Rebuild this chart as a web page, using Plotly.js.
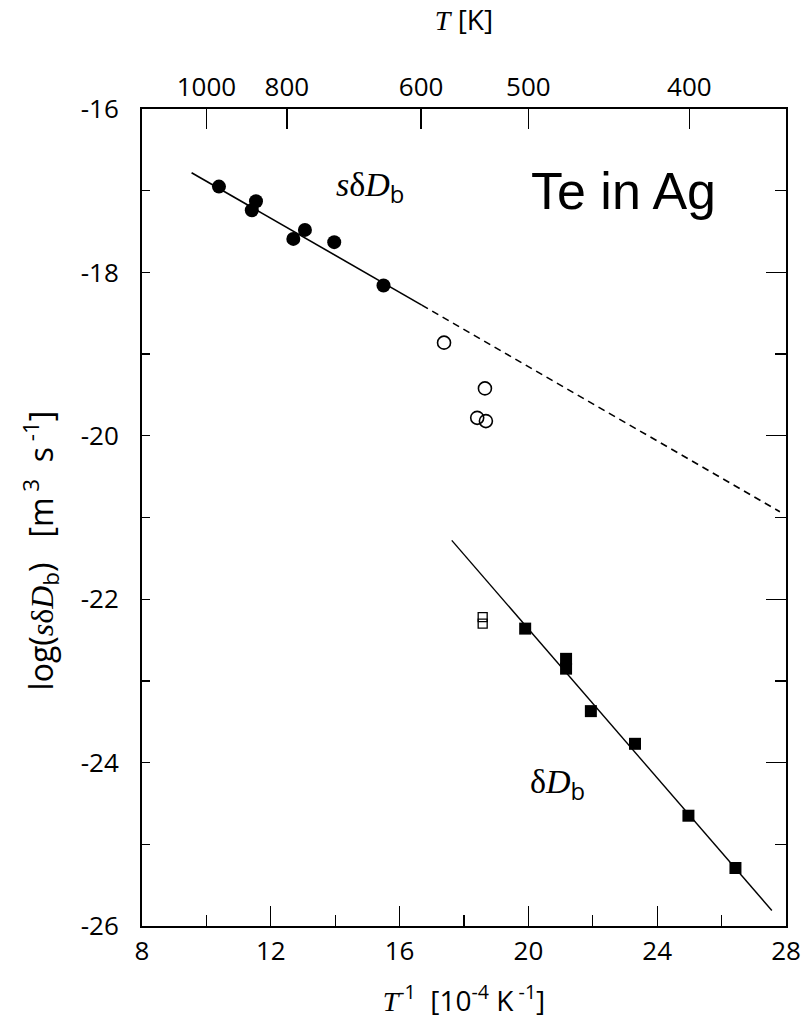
<!DOCTYPE html>
<html>
<head>
<meta charset="utf-8">
<script src="https://cdn.plot.ly/plotly-3.0.1.min.js"></script>
<style>html,body{margin:0;padding:0;background:#fff;}#chart{width:803px;height:1034px;}</style>
</head>
<body>
<div id="chart"></div>
<script>
// Data (x = 1/T in 1e-4 K^-1, y = log10 value)
const sdbFilledX = [10.39, 11.54, 11.41, 13.06, 12.70, 13.97, 15.50];
const sdbFilledY = [-16.95, -17.13, -17.24, -17.48, -17.59, -17.63, -18.16];
const sdbOpenX = [17.38, 18.65, 18.41, 18.68];
const sdbOpenY = [-18.86, -19.42, -19.78, -19.82];
const dbFilledX = [19.90, 21.17, 21.17, 21.94, 23.31, 24.97, 26.43];
const dbFilledY = [-22.36, -22.73, -22.85, -23.37, -23.77, -24.65, -25.29];
const dbOpenX = [18.58, 18.58];
const dbOpenY = [-22.22, -22.30];
const sdbFitSolidX = [9.54, 16.69];
const sdbFitSolidY = [-16.78, -18.40];
const sdbFitDashX = [16.69, 27.81];
const sdbFitDashY = [-18.40, -20.93];
const dbFitX = [17.62, 27.56];
const dbFitY = [-21.28, -25.81];
const topTemps = [1000, 800, 600, 500, 400];
const topTickVals = topTemps.map(t => 1e4 / t);
const topTickText = topTemps.map(t => String(t));
const yTickVals = [-16, -18, -20, -22, -24, -26];
const yTickText = ['-16', '-18', '-20', '-22', '-24', '-26'];
const xTickVals = [8, 12, 16, 20, 24, 28];
const xTickText = ['8', '12', '16', '20', '24', '28'];

const serif = "'Liberation Serif', 'DejaVu Serif', serif";
const sans = "'Open Sans', 'Liberation Sans', sans-serif";
const SER = (s) => "<span style=\"font-family:'Liberation Serif'\">" + s + "</span>";

const traces = [
  {x: sdbFitSolidX, y: sdbFitSolidY, mode: 'lines', line: {color: '#000', width: 1.6}, hoverinfo: 'skip'},
  {x: sdbFitDashX, y: sdbFitDashY, mode: 'lines', line: {color: '#000', width: 1.6, dash: '7px,5px'}, hoverinfo: 'skip'},
  {x: dbFitX, y: dbFitY, mode: 'lines', line: {color: '#000', width: 1.4}, hoverinfo: 'skip'},
  {x: sdbFilledX, y: sdbFilledY, mode: 'markers', marker: {symbol: 'circle', size: 14, color: '#000'}},
  {x: sdbOpenX, y: sdbOpenY, mode: 'markers', marker: {symbol: 'circle-open', size: 13, color: '#000', line: {width: 1.6, color: '#000'}}},
  {x: dbFilledX, y: dbFilledY, mode: 'markers', marker: {symbol: 'square', size: 12, color: '#000'}},
  {x: dbOpenX, y: dbOpenY, mode: 'markers', marker: {symbol: 'square-open', size: 9, color: '#000', line: {width: 1.3, color: '#000'}}},
  {x: topTickVals, y: topTickVals.map(() => -16), xaxis: 'x2', yaxis: 'y', mode: 'markers', marker: {opacity: 0}, hoverinfo: 'skip'},
  {x: [8, 28], y: [-16, -26], xaxis: 'x', yaxis: 'y2', mode: 'markers', marker: {opacity: 0}, hoverinfo: 'skip'}
];

const layout = {
  width: 803, height: 1034,
  margin: {l: 142, r: 17, t: 109, b: 108},
  paper_bgcolor: '#fff', plot_bgcolor: '#fff',
  showlegend: false,
  font: {family: sans, color: '#000', size: 26},
  xaxis: {
    range: [8, 28], tickmode: 'array', tickvals: xTickVals, ticktext: xTickText,
    ticks: 'inside', ticklen: 20, tickwidth: 1.3, tickcolor: '#000',
    minor: {tickmode: 'linear', tick0: 8, dtick: 2, ticks: 'inside', ticklen: 11, tickwidth: 1.3, tickcolor: '#000'},
    showgrid: false, zeroline: false,
    showline: true, linecolor: '#000', linewidth: 2,
    tickfont: {size: 26, family: sans},
    ticklabelstandoff: 1,
    title: {text: SER("<i>T</i>") + "<sup>-1</sup>  [10<sup>-4</sup> K<sup> -1</sup>]", font: {size: 28, family: sans}, standoff: 24}
  },
  xaxis2: {
    overlaying: 'x', side: 'top', range: [8, 28],
    tickmode: 'array', tickvals: topTickVals, ticktext: topTickText,
    ticks: 'inside', ticklen: 20, tickwidth: 1.3, tickcolor: '#000',
    showgrid: false, zeroline: false,
    showline: true, linecolor: '#000', linewidth: 2,
    tickfont: {size: 26, family: sans},
    ticklabelstandoff: 1,
    title: {text: SER("<i>T</i>") + " [K]", font: {size: 28, family: sans}, standoff: 30}
  },
  yaxis: {
    range: [-26, -16], tickmode: 'array', tickvals: yTickVals, ticktext: yTickText,
    ticks: 'inside', ticklen: 8, tickwidth: 1.3, tickcolor: '#000',
    minor: {tickmode: 'linear', tick0: -26, dtick: 1, ticks: 'inside', ticklen: 8, tickwidth: 1.3, tickcolor: '#000'},
    showgrid: false, zeroline: false,
    showline: true, linecolor: '#000', linewidth: 2,
    tickfont: {size: 26, family: sans},
    ticklabelstandoff: 16
  },
  yaxis2: {
    overlaying: 'y', side: 'right', range: [-26, -16],
    tickmode: 'array', tickvals: yTickVals,
    ticks: 'inside', ticklen: 20, tickwidth: 1.3, tickcolor: '#000',
    minor: {tickmode: 'linear', tick0: -26, dtick: 1, ticks: 'inside', ticklen: 11, tickwidth: 1.3, tickcolor: '#000'},
    showticklabels: false, showgrid: false, zeroline: false,
    showline: true, linecolor: '#000', linewidth: 2
  },
  annotations: [
    {x: -0.158, y: 0.46, xref: 'paper', yref: 'paper', xanchor: 'center', yanchor: 'middle',
     textangle: -90, showarrow: false,
     text: "log(" + SER("<i>s</i>δ<i>D</i>") + "<sub>b</sub>)   [m<sup> 3</sup>  s<sup> -1</sup>]",
     font: {size: 32, family: sans}},
    {x: 15.08, y: -16.97, xref: 'x', yref: 'y', showarrow: false,
     text: SER("<i>s</i>δ<i>D</i>") + "<sub>b</sub>",
     font: {size: 34, family: sans}},
    {x: 20.9, y: -24.27, xref: 'x', yref: 'y', showarrow: false,
     text: SER("δ<i>D</i>") + "<sub>b</sub>",
     font: {size: 34, family: sans}},
    {x: 22.94, y: -17.0, xref: 'x', yref: 'y', showarrow: false,
     text: 'Te in Ag', font: {size: 52, family: "'Liberation Sans', Arial, sans-serif"}}
  ]
};

Plotly.newPlot('chart', traces, layout, {staticPlot: true, displayModeBar: false});
</script>
</body>
</html>
